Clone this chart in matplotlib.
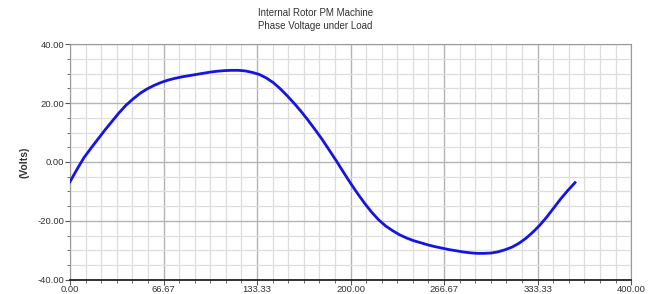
import matplotlib.pyplot as plt
from matplotlib.ticker import MultipleLocator, FixedLocator
import numpy as np

plt.rcParams['font.family'] = ['Liberation Sans', 'DejaVu Sans']

# Phase voltage vs electric degrees
degrees = list(range(0, 361, 5))
volts = [-6.7, -2.5, 1.5, 4.7, 7.8, 10.9, 13.8, 16.7, 19.3, 21.4,
         23.3, 24.8, 26.0, 27.0, 27.8, 28.4, 28.9, 29.3, 29.7, 30.1,
         30.5, 30.8, 31.0, 31.1, 31.1, 30.9, 30.4, 29.7, 28.5, 26.9,
         24.8, 22.4, 19.8, 17.0, 14.0, 10.8, 7.5, 3.9, 0.3, -3.5,
         -7.2, -10.7, -14.0, -17.0, -19.6, -21.7, -23.3, -24.7, -25.8, -26.7,
         -27.4, -28.1, -28.7, -29.2, -29.7, -30.1, -30.5, -30.8, -31.0, -31.0,
         -30.9, -30.5, -29.8, -28.9, -27.6, -25.9, -23.8, -21.4, -18.6, -15.5,
         -12.4, -9.6, -7.0]

x_ticks = [0, 66.67, 133.33, 200, 266.67, 333.33, 400]
x_labels = ['0.00', '66.67', '133.33', '200.00', '266.67', '333.33', '400.00']
y_ticks = [-40, -20, 0, 20, 40]
y_labels = ['-40.00', '-20.00', '0.00', '20.00', '40.00']

fig = plt.figure(figsize=(6.54, 2.94), dpi=100, facecolor='white')
ax = fig.add_axes([0.107, 0.048, 0.858, 0.802])

ax.plot(degrees, volts, color='#1414e6', linewidth=2.0,
        solid_joinstyle='round', zorder=3)

ax.set_xlim(0, 400)
ax.set_ylim(-40, 40)
ax.set_xticks(x_ticks)
ax.set_xticklabels(x_labels)
ax.xaxis.set_minor_locator(FixedLocator(np.arange(0, 400.01, 400 / 36)))
ax.set_yticks(y_ticks)
ax.set_yticklabels(y_labels)
ax.yaxis.set_minor_locator(MultipleLocator(5))

ax.grid(which='major', color='#b4b4b4', linewidth=1.0)
ax.grid(which='minor', color='#dedede', linewidth=0.9)
ax.set_axisbelow(True)

ax.tick_params(which='both', direction='out', colors='#555555',
               labelcolor='#333333', labelsize=6.8)
ax.tick_params(which='major', length=3.5, pad=0.5)
ax.tick_params(which='minor', length=2.5)

for side in ['top', 'right', 'left']:
    ax.spines[side].set_color('#999999')
ax.spines['bottom'].set_color('#222222')
ax.spines['bottom'].set_linewidth(1.3)

ax.set_ylabel('(Volts)', fontsize=7.5, fontweight='bold', color='#333333',
              labelpad=6)
ax.set_xlabel('Electric Degrees', fontsize=7.5, color='#333333', labelpad=1)

fig.text(0.482, 0.955, 'Internal Rotor PM Machine', ha='center', va='center',
         fontsize=7, color='#333333')
fig.text(0.482, 0.913, 'Phase Voltage under Load', ha='center', va='center',
         fontsize=7, color='#333333')

plt.savefig('out.png', dpi=100)
